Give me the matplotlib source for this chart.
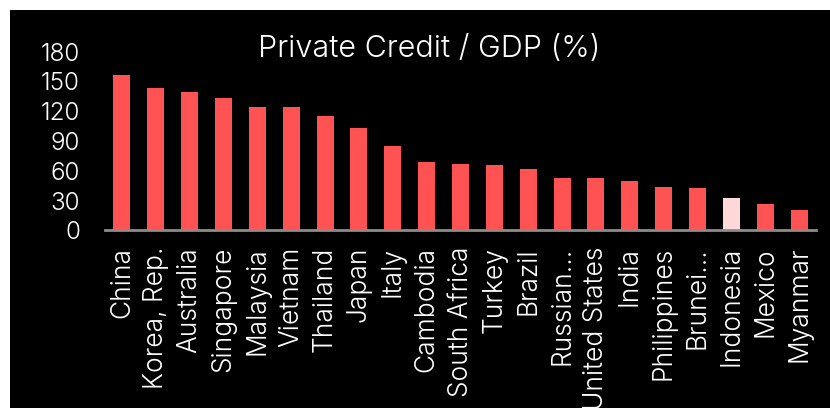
import matplotlib.pyplot as plt
from matplotlib.patches import Rectangle

countries = ["China", "Korea, Rep.", "Australia", "Singapore", "Malaysia",
             "Vietnam", "Thailand", "Japan", "Italy", "Cambodia",
             "South Africa", "Turkey", "Brazil", "Russian\u2026",
             "United States", "India", "Philippines", "Brunei\u2026",
             "Indonesia", "Mexico", "Myanmar"]
credit_gdp = [156.4, 143.5, 139.3, 133.0, 124.0, 124.0, 114.8, 103.3, 85.2,
              68.6, 66.4, 65.4, 61.6, 52.8, 52.5, 49.2, 44.1, 43.1, 32.3,
              26.3, 20.9]
highlight = "Indonesia"
yticks = [0, 30, 60, 90, 120, 150, 180]

FONT = "Inter"
WEIGHT = 300

fig = plt.figure(figsize=(8.3, 4.08), dpi=100, facecolor="white")
fig.patches.append(Rectangle((10 / 830, 0), 820 / 830, 398 / 408,
                             transform=fig.transFigure, facecolor="black",
                             edgecolor="none", zorder=-10))

ax = fig.add_axes([105 / 830, 177.7 / 408, 711 / 830, 178.7 / 408])
ax.set_facecolor("none")

colors = ["#ffd9d9" if c == highlight else "#ff5252" for c in countries]
ax.bar(range(len(countries)), credit_gdp, width=0.5, color=colors, zorder=2)

ax.set_xlim(-0.5, len(countries) - 0.5)
ax.set_ylim(0, 180)
ax.set_yticks(yticks)
ax.set_yticklabels([str(t) for t in yticks], fontsize=17.5, color="white",
                   family=FONT, fontweight=WEIGHT)
ax.set_xticks(range(len(countries)))
ax.set_xticklabels(countries, rotation=90, fontsize=19, color="white",
                   family=FONT, fontweight=WEIGHT)
ax.tick_params(axis="y", length=0, pad=18)
ax.tick_params(axis="x", length=0, pad=12)

for side in ["top", "right", "left"]:
    ax.spines[side].set_visible(False)
ax.spines["bottom"].set_color("#8c8c8c")
ax.spines["bottom"].set_linewidth(2)

fig.text(429 / 830, 1 - 49 / 408, "Private Credit / GDP (%)", ha="center",
         va="center", fontsize=22, color="white", family=FONT,
         fontweight=WEIGHT)

fig.savefig("out.png", dpi=100, facecolor=fig.get_facecolor())
